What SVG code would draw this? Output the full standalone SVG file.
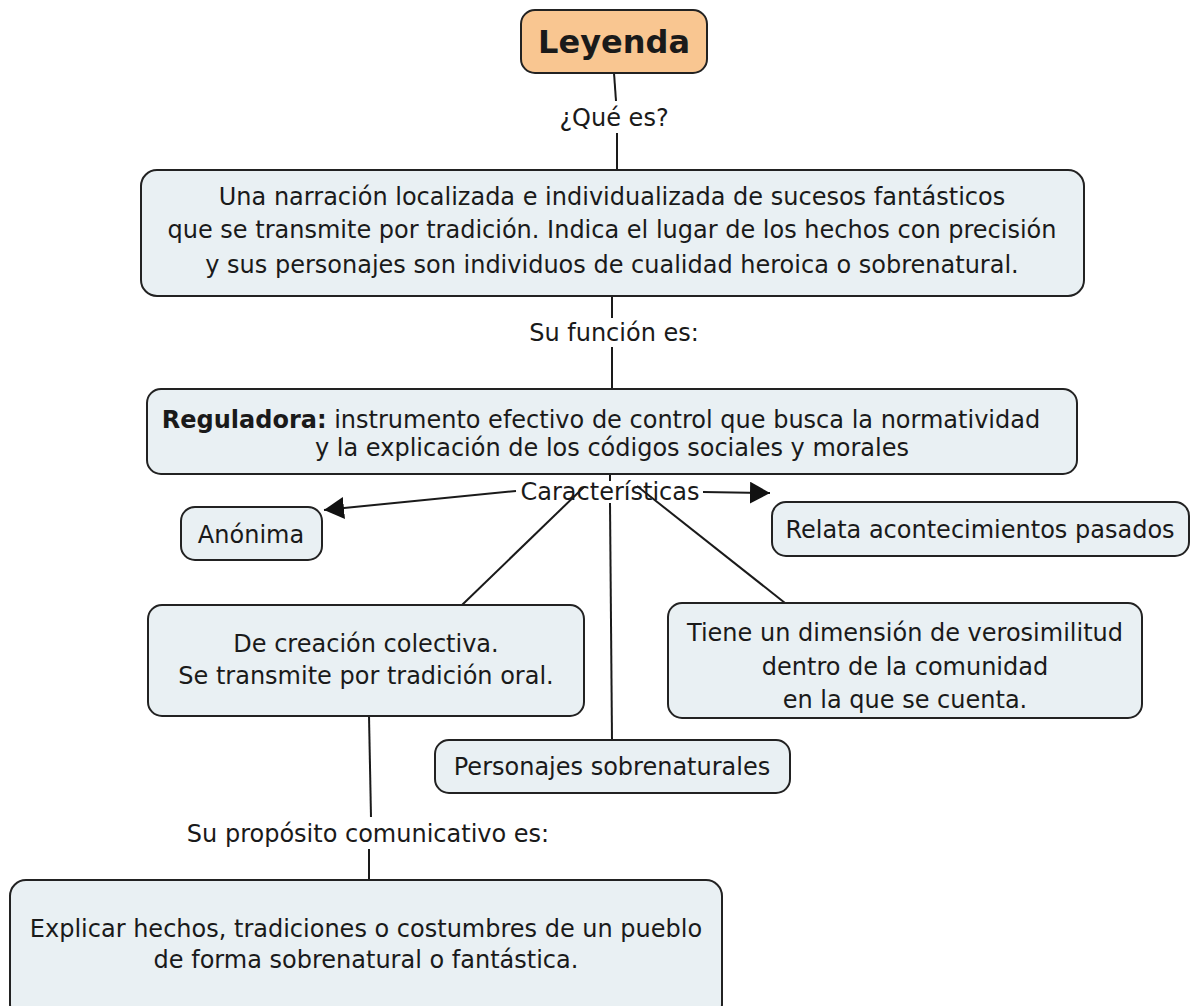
<svg xmlns="http://www.w3.org/2000/svg" width="1191" height="1006" viewBox="0 0 1191 1006">
<style>
  .node { fill: #E9F0F3; stroke: #222; stroke-width: 2; }
  .root { fill: #F9C691; stroke: #222; stroke-width: 2; }
  .t { font-family: "DejaVu Sans", Verdana, sans-serif; font-size: 24px; fill: #1a1a1a; text-anchor: middle; }
  .lbl { font-family: "DejaVu Sans", Verdana, sans-serif; font-size: 24px; fill: #1a1a1a; text-anchor: middle; }
  .c { stroke: #1a1a1a; stroke-width: 2; fill: none; }
</style>
<defs>
  <marker id="arrL" viewBox="0 0 20 22" refX="20" refY="11" markerWidth="20" markerHeight="22" markerUnits="userSpaceOnUse" orient="auto">
    <path d="M0,0 L20,11 L0,22 Z" fill="#111"/>
  </marker>
</defs>
<rect width="1191" height="1006" fill="#fff"/>
<g id="connectors">
  <line class="c" x1="614" y1="73" x2="616" y2="101"/>
  <line class="c" x1="617" y1="133" x2="617" y2="170"/>
  <line class="c" x1="612" y1="296" x2="612" y2="318"/>
  <line class="c" x1="612" y1="347" x2="612" y2="389"/>
  <line class="c" x1="610" y1="474" x2="610" y2="481"/>
  <line class="c" x1="516" y1="491" x2="324" y2="510" marker-end="url(#arrL)"/>
  <line class="c" x1="703" y1="492" x2="770" y2="493" marker-end="url(#arrL)"/>
  <line class="c" x1="584" y1="487" x2="462" y2="605"/>
  <line class="c" x1="637" y1="486" x2="785" y2="603"/>
  <line class="c" x1="610" y1="503" x2="612" y2="740"/>
  <line class="c" x1="369" y1="716" x2="371" y2="817"/>
  <line class="c" x1="369" y1="849" x2="369" y2="880"/>
  <text class="lbl" x="614" y="126">¿Qué es?</text>
  <text class="lbl" x="614" y="341">Su función es:</text>
  <text class="lbl" x="610" y="500">Características</text>
  <text class="lbl" x="368" y="842">Su propósito comunicativo es:</text>
</g>
<g id="leyenda">
  <rect class="root" x="521" y="10" width="186" height="63" rx="14"/>
  <text class="t" x="614" y="53" style="font-size:32px;font-weight:bold">Leyenda</text>
</g>
<g id="definicion">
  <rect class="node" x="141" y="170" width="943" height="126" rx="16"/>
  <text class="t" x="612" y="205">Una narración localizada e individualizada de sucesos fantásticos</text>
  <text class="t" x="612" y="238">que se transmite por tradición. Indica el lugar de los hechos con precisión</text>
  <text class="t" x="612" y="273">y sus personajes son individuos de cualidad heroica o sobrenatural.</text>
</g>
<g id="reguladora">
  <rect class="node" x="147" y="389" width="930" height="85" rx="14"/>
  <text class="t" x="601" y="428"><tspan font-weight="bold">Reguladora:</tspan> instrumento efectivo de control que busca la normatividad</text>
  <text class="t" x="612" y="456">y la explicación de los códigos sociales y morales</text>
</g>
<g id="anonima">
  <rect class="node" x="181" y="507" width="141" height="53" rx="14"/>
  <text class="t" x="251" y="543">Anónima</text>
</g>
<g id="relata">
  <rect class="node" x="772" y="502" width="417" height="54" rx="14"/>
  <text class="t" x="980" y="538">Relata acontecimientos pasados</text>
</g>
<g id="creacion">
  <rect class="node" x="148" y="605" width="436" height="111" rx="14"/>
  <text class="t" x="366" y="652">De creación colectiva.</text>
  <text class="t" x="366" y="684">Se transmite por tradición oral.</text>
</g>
<g id="tiene">
  <rect class="node" x="668" y="603" width="474" height="115" rx="14"/>
  <text class="t" x="905" y="641">Tiene un dimensión de verosimilitud</text>
  <text class="t" x="905" y="675">dentro de la comunidad</text>
  <text class="t" x="905" y="708">en la que se cuenta.</text>
</g>
<g id="personajes">
  <rect class="node" x="435" y="740" width="355" height="53" rx="14"/>
  <text class="t" x="612" y="775">Personajes sobrenaturales</text>
</g>
<g id="explicar">
  <rect class="node" x="10" y="880" width="712" height="140" rx="16"/>
  <text class="t" x="366" y="937">Explicar hechos, tradiciones o costumbres de un pueblo</text>
  <text class="t" x="366" y="968">de forma sobrenatural o fantástica.</text>
</g>
</svg>
